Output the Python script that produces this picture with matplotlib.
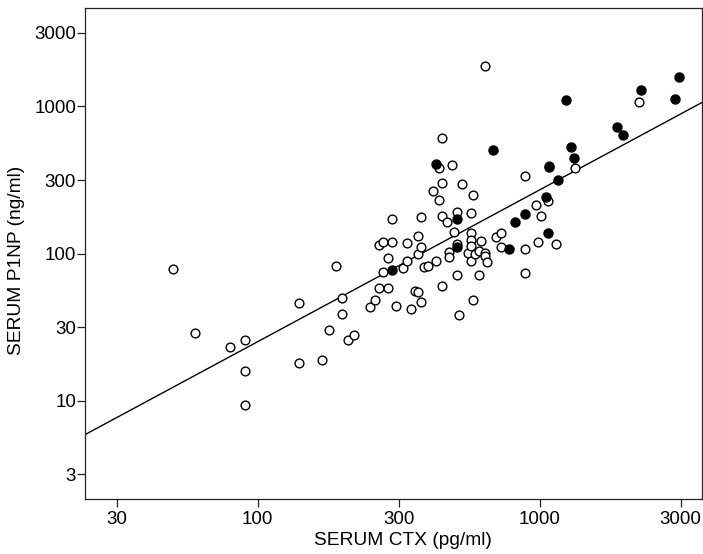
import numpy as np
import matplotlib
matplotlib.use('Agg')
import matplotlib.pyplot as plt

plt.rcParams['font.family'] = ['Liberation Sans', 'DejaVu Sans']

# open circles
ctx_open = [50, 60, 80, 90, 90, 90, 140, 140, 169, 179, 189, 199, 199, 209, 219,
            249, 260, 269, 269, 279, 279, 289, 289, 299, 299, 308, 328, 339, 339,
            348, 360, 369, 369, 369, 378, 378, 378, 388, 400, 419, 429, 438, 438,
            449, 449, 449, 449, 470, 478, 478, 489, 498, 507, 507, 507, 518, 528,
            558, 568, 568, 568, 568, 568, 579, 579, 590, 609, 609, 618, 637, 637,
            641, 648, 697, 729, 729, 888, 888, 888, 966, 987, 1009, 1066, 1078,
            1139, 1338, 2242]
p1np_open = [79, 29, 23, 26, 16, 9.3, 46, 18, 19, 30, 82, 50, 39, 26, 28,
             43, 48, 115, 58, 120, 75, 94, 58, 173, 120, 44, 80, 118, 89,
             42, 56, 131, 99, 55, 176, 110, 47, 81, 82, 267, 89, 380, 233,
             608, 300, 179, 60, 164, 103, 95, 399, 141, 193, 117, 71, 38, 295,
             101, 190, 139, 123, 112, 89, 249, 48, 99, 71, 104, 121, 1882, 101,
             96, 88, 129, 139, 110, 338, 107, 74, 215, 119, 181, 226, 391,
             117, 380, 1066]

# filled circles
ctx_filled = [299, 428, 507, 507, 680, 778, 819, 888, 1055, 1066, 1078, 1164,
              1239, 1294, 1323, 1880, 1980, 2283, 3015, 3105]
p1np_filled = [77.5, 404, 171, 110, 506, 107, 165, 186, 244, 138, 386, 318,
               1102, 529, 448, 721, 639, 1301, 1133, 1578]

# log10(P1NP) = fit_a + fit_b * log10(CTX)
fit_a = -0.6625
fit_b = 1.032

x_ticklabels = ['30', '100', '300', '1000', '3000']
y_ticklabels = ['3', '10', '30', '100', '300', '1000', '3000']
x_tickpos = 10 ** (np.arange(3, 8) / 2.0)
y_tickpos = 10 ** (np.arange(1, 8) / 2.0)

fig = plt.figure(figsize=(7.03, 5.54), dpi=100)
ax = fig.add_axes([0.121, 0.0995, 0.878, 0.8865])

xmin, xmax = 24.4, 3770
ymin, ymax = 2.15, 4690

xl = np.array([xmin, xmax])
ax.plot(xl, 10 ** (fit_a + fit_b * np.log10(xl)), color='black', lw=1.0, zorder=1)

ax.plot(ctx_open, p1np_open, 'o', mfc='white', mec='black', mew=1.0, ms=6.3,
        ls='none', zorder=2)
ax.plot(ctx_filled, p1np_filled, 'o', mfc='black', mec='black', mew=1.0, ms=6.5,
        ls='none', zorder=3)

ax.set_xscale('log')
ax.set_yscale('log')
ax.set_xlim(xmin, xmax)
ax.set_ylim(ymin, ymax)

ax.xaxis.set_minor_locator(matplotlib.ticker.NullLocator())
ax.yaxis.set_minor_locator(matplotlib.ticker.NullLocator())
ax.set_xticks(x_tickpos)
ax.set_xticklabels(x_ticklabels)
ax.set_yticks(y_tickpos)
ax.set_yticklabels(y_ticklabels)
ax.tick_params(direction='out', length=5.5, width=0.9, labelsize=13.5,
               colors='#222222', labelcolor='black')
ax.tick_params(axis='x', pad=3.5)
ax.tick_params(axis='y', pad=1)

ax.set_xlabel('SERUM CTX (pg/ml)', fontsize=13.8)
ax.set_ylabel('SERUM P1NP (ng/ml)', fontsize=13.8)
ax.xaxis.set_label_coords(0.515, -0.068)
ax.yaxis.set_label_coords(-0.097, 0.485)

for s in ax.spines.values():
    s.set_linewidth(0.9)
    s.set_color('#222222')

fig.savefig('out.png', dpi=100)
